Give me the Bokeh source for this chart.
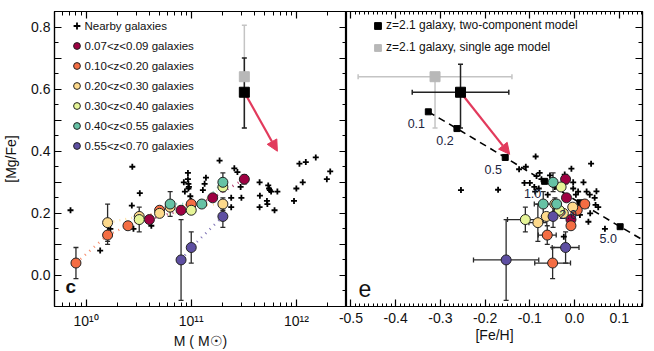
import numpy as np
from bokeh.plotting import figure
from bokeh.layouts import row
from bokeh.models import (ColumnDataSource, Whisker, TeeHead, Arrow, NormalHead, Legend, LegendItem,
                          FixedTicker, LinearAxis, LogAxis, Label, Range1d)
from bokeh.core.properties import value
from bokeh.embed import file_html
from bokeh.resources import INLINE

FONT = "Liberation Sans"
RED = "#E23A5C"

# ---------------- data ----------------
bin_labels = ["0.07<z<0.09 galaxies", "0.10<z<0.20 galaxies", "0.20<z<0.30 galaxies",
              "0.30<z<0.40 galaxies", "0.40<z<0.55 galaxies", "0.55<z<0.70 galaxies"]
bin_colors = ["#9E0142", "#F46D43", "#FDD98B", "#E6F598", "#66C2A5", "#5E4FA2"]

b1_mass = [4.0e10, 8.0e10, 1.6e11, 3.2e11]
b1_mgfe = [0.18, 0.21, 0.25, 0.31]
b1_mgfe_err = [0.01, 0.01, 0.01, 0.015]
b1_feh = [-0.008, 0.003, -0.018, -0.020]
b1_feh_err = [0.0, 0.0, 0.0, 0.0]

b2_mass = [8.0e9, 1.6e10, 2.5e10, 5.0e10, 1.0e11]
b2_mgfe = [0.04, 0.13, 0.16, 0.21, 0.23]
b2_mgfe_err = [0.05, 0.03, 0.0, 0.0, 0.0]
b2_feh = [-0.049, -0.061, -0.008, 0.006, 0.023]
b2_feh_err = [0.04, 0.02, 0.0, 0.0, 0.0]

b3_mass = [1.6e10, 3.2e10, 5.0e10, 6.3e10, 2.0e11]
b3_mgfe = [0.17, 0.19, 0.20, 0.22, 0.23]
b3_mgfe_err = [0.06, 0.0, 0.0, 0.0, 0.02]
b3_feh = [-0.082, -0.063, -0.025, -0.004, -0.044]
b3_feh_err = [0.02, 0.0, 0.0, 0.0, 0.0]

b4_mass = [3.2e10, 1.0e11, 2.0e11]
b4_mgfe = [0.18, 0.21, 0.285]
b4_mgfe_err = [0.04, 0.0, 0.0]
b4_feh = [-0.110, -0.034, -0.030]
b4_feh_err = [0.04, 0.0, 0.0]

b5_mass = [6.3e10, 1.26e11, 2.0e11]
b5_mgfe = [0.23, 0.23, 0.30]
b5_mgfe_err = [0.04, 0.0, 0.03]
b5_feh = [-0.070, -0.040, -0.048]
b5_feh_err = [0.02, 0.0, 0.0]

b6_mass = [8.0e10, 1.0e11, 2.0e11]
b6_mgfe = [0.05, 0.09, 0.19]
b6_mgfe_err = [0.13, 0.05, 0.035]
b6_feh = [-0.153, -0.020, -0.048]
b6_feh_err = [0.073, 0.03, 0.0]

nearby_mass = [7.1e9, 1.36e10, 1.7e10, 2.75e10, 3.24e10, 2.72e10, 2.82e10, 4.17e10,
               8.7e10, 9.3e10, 9.3e10, 9.4e10, 9.4e10, 8.5e10, 9.5e10, 9.8e10, 1.0e11,
               1.29e11, 1.34e11, 1.38e11, 1.86e11, 2.57e11, 2.75e11, 2.95e11, 3.0e11, 2.4e11, 2.4e11,
               4.47e11, 4.5e11, 4.47e11, 5.4e11, 5.5e11, 5.6e11, 5.75e11, 5.25e11, 5.3e11, 6.6e11, 6.2e11,
               9.5e11, 1.0e12, 1.15e12, 1.07e12, 1.23e12, 1.53e12, 2.1e12, 1.95e12]
nearby_mgfe = [0.21, 0.08, 0.15, 0.35, 0.265, 0.225, 0.15, 0.16,
               0.27, 0.33, 0.31, 0.295, 0.28, 0.30, 0.285, 0.255, 0.24,
               0.275, 0.295, 0.315, 0.37, 0.345, 0.333, 0.285, 0.25, 0.25, 0.22,
               0.30, 0.257, 0.22, 0.29, 0.28, 0.275, 0.27, 0.24, 0.23, 0.27, 0.21,
               0.24, 0.28, 0.30, 0.36, 0.365, 0.38, 0.335, 0.31]

nearby_feh = [-0.254, -0.171, -0.087, -0.109, -0.124, 0.037, -0.112, -0.100, -0.085, -0.078,
              -0.074, -0.090, -0.080, -0.055, -0.022, -0.003, -0.003, -0.044, -0.007, 0.020,
              0.008, 0.003, 0.027, 0.034, 0.049, 0.047, 0.053, 0.045, 0.031, 0.068, -0.024,
              -0.088, -0.060, 0.012, 0.035]
nearby_feh_mgfe = [0.275, 0.276, 0.383, 0.350, 0.342, 0.360, 0.298, 0.298, 0.320, 0.330,
                   0.310, 0.285, 0.280, 0.322, 0.325, 0.300, 0.280, 0.285, 0.344, 0.300,
                   0.270, 0.260, 0.270, 0.260, 0.271, 0.227, 0.220, 0.250, 0.173, 0.150, 0.125,
                   0.270, 0.260, 0.195, 0.200]

# z=2.1 galaxy
z21_mass = [3.2e11]
z21_two_mgfe = [0.59]
z21_two_mgfe_hi_left = [0.70]
z21_two_mgfe_hi_right = [0.68]
z21_two_mgfe_lo = [0.475]
z21_single_mgfe = [0.64]
z21_single_mgfe_hi_left = [0.806]
z21_single_mgfe_lo = [0.475]
z21_two_feh = [-0.255]
z21_two_feh_err = [0.108]
z21_single_feh = [-0.312]
z21_single_feh_err = [0.172]
arrow_tip_mass = 6.6e11
arrow_tip_mgfe_left = 0.40
arrow_tip_feh = -0.145
arrow_tip_mgfe_right = 0.39

# model track (age labels)
model_age = ["0.1", "0.2", "0.5", "1.0", "2.0", "5.0"]
model_feh = [-0.327, -0.263, -0.155, -0.067, 0.012, 0.102]
model_mgfe = [0.527, 0.473, 0.380, 0.303, 0.234, 0.157]
track_end_feh = [0.17]
track_end_mgfe = [0.10]

# ticks
mass_ticks = [1e10, 1e11, 1e12]
mass_tick_labels = ["10\u00b9\u2070", "10\u00b9\u00b9", "10\u00b9\u00b2"]
mass_minor = [m * f for m in [1e9, 1e10, 1e11, 1e12] for f in range(2, 10)]
y_ticks = [0.0, 0.1, 0.2, 0.3, 0.4, 0.5, 0.6, 0.7, 0.8]
y_tick_labels = ["0.0", "", "0.2", "", "0.4", "", "0.6", "", "0.8"]
y_minor = [-0.05, 0.05, 0.15, 0.25, 0.35, 0.45, 0.55, 0.65, 0.75]
feh_ticks = [-0.5, -0.4, -0.3, -0.2, -0.1, 0.0, 0.1]
feh_tick_labels = ["-0.5", "-0.4", "-0.3", "-0.2", "-0.1", "0.0", "0.1"]
feh_minor = [round(v, 2) for v in np.arange(-0.51, 0.16, 0.01)]

bins = [
    dict(mass=b1_mass, mgfe=b1_mgfe, mgfe_err=b1_mgfe_err, feh=b1_feh, feh_err=b1_feh_err),
    dict(mass=b2_mass, mgfe=b2_mgfe, mgfe_err=b2_mgfe_err, feh=b2_feh, feh_err=b2_feh_err),
    dict(mass=b3_mass, mgfe=b3_mgfe, mgfe_err=b3_mgfe_err, feh=b3_feh, feh_err=b3_feh_err),
    dict(mass=b4_mass, mgfe=b4_mgfe, mgfe_err=b4_mgfe_err, feh=b4_feh, feh_err=b4_feh_err),
    dict(mass=b5_mass, mgfe=b5_mgfe, mgfe_err=b5_mgfe_err, feh=b5_feh, feh_err=b5_feh_err),
    dict(mass=b6_mass, mgfe=b6_mgfe, mgfe_err=b6_mgfe_err, feh=b6_feh, feh_err=b6_feh_err),
]

# ---------------- helpers ----------------
def style_axis(ax, labels=True, major=7, minor=4):
    ax.major_tick_in = major
    ax.major_tick_out = 0
    ax.minor_tick_in = minor
    ax.minor_tick_out = 0
    ax.axis_line_color = "black"
    ax.axis_line_width = 1.2
    ax.major_tick_line_color = "black"
    ax.minor_tick_line_color = "black"
    ax.major_tick_line_width = 1.2
    ax.minor_tick_line_width = 1
    ax.major_label_text_font = FONT
    ax.axis_label_text_font = FONT
    ax.axis_label_text_font_style = "normal"
    ax.major_label_text_color = "#111111"
    ax.axis_label_text_color = "#111111"
    if labels:
        ax.major_label_text_font_size = "14px"
        ax.axis_label_text_font_size = "14px"
    else:
        ax.major_label_text_font_size = "1px"
        ax.major_label_text_alpha = 0
        ax.major_label_standoff = 0


def whiskers(p, base, center, err, dim, color="#2a2a2a", width=1.3, hi=None, lo=None):
    if hi is None:
        keep = [i for i, e in enumerate(err) if e > 0]
        b = [base[i] for i in keep]
        lo_v = [center[i] - err[i] for i in keep]
        hi_v = [center[i] + err[i] for i in keep]
    else:
        b, lo_v, hi_v = base, lo, hi
    if not b:
        return
    src = ColumnDataSource(dict(b=b, lo=lo_v, hi=hi_v))
    w = Whisker(source=src, base="b", lower="lo", upper="hi", dimension=dim,
                line_color=color, line_width=width, level="underlay",
                upper_head=TeeHead(size=5, line_color=color, line_width=width),
                lower_head=TeeHead(size=5, line_color=color, line_width=width))
    p.add_layout(w)


H = 351

# ---------------- left panel ----------------
p1 = figure(width=346, height=H, x_axis_type="log",
            x_range=Range1d(5e9, 3e12), y_range=Range1d(-0.1, 0.85),
            output_backend="svg", toolbar_location=None,
            min_border_left=50, min_border_right=0, min_border_top=11, min_border_bottom=44)
p1.grid.visible = False
p1.outline_line_color = "black"
p1.outline_line_width = 1.2

mass_ticker = FixedTicker(ticks=mass_ticks, minor_ticks=mass_minor)
y_ticker = FixedTicker(ticks=y_ticks, minor_ticks=y_minor)
p1.xaxis.ticker = mass_ticker
p1.xaxis.major_label_overrides = dict(zip(mass_ticks, mass_tick_labels))
p1.yaxis.ticker = y_ticker
p1.yaxis.major_label_overrides = dict(zip(y_ticks, y_tick_labels))
p1.xaxis.axis_label = "M ( M\u2609)"
p1.yaxis.axis_label = "[Mg/Fe]"
for ax in p1.xaxis + p1.yaxis:
    style_axis(ax)
p1.xaxis.major_label_standoff = 6
p1.xaxis.axis_label_standoff = 1
p1.yaxis.major_label_standoff = 4
p1.yaxis.axis_label_standoff = 9

top1 = LogAxis(ticker=FixedTicker(ticks=mass_ticks, minor_ticks=mass_minor))
style_axis(top1, labels=False)
p1.add_layout(top1, "above")
right1 = LinearAxis(ticker=FixedTicker(ticks=y_ticks, minor_ticks=y_minor))
style_axis(right1, labels=False)
p1.add_layout(right1, "right")

# dotted connecting lines
for bd, col in zip(bins, bin_colors):
    p1.line(bd["mass"], bd["mgfe"], line_color=col, line_alpha=0.8, line_width=2.4, line_dash="1 5")

# error bars
for bd in bins:
    whiskers(p1, bd["mass"], bd["mgfe"], bd["mgfe_err"], "height")

r_near1 = p1.scatter(nearby_mass, nearby_mgfe, marker="cross", size=6, line_width=1.8, color="black")

circle_r1 = []
for bd, col in zip(bins, bin_colors):
    r = p1.scatter(bd["mass"], bd["mgfe"], marker="circle", size=10, fill_color=col,
                   line_color="#222222", line_width=1)
    circle_r1.append(r)

# z=2.1 galaxy
whiskers(p1, z21_mass, None, None, "height", color="#c4c4c4", width=1.5,
         hi=z21_single_mgfe_hi_left, lo=z21_single_mgfe_lo)
whiskers(p1, z21_mass, None, None, "height", color="#222222", width=1.5,
         hi=z21_two_mgfe_hi_left, lo=z21_two_mgfe_lo)
p1.scatter(z21_mass, z21_single_mgfe, marker="square", size=10, color="#b8b8b8")
p1.scatter(z21_mass, z21_two_mgfe, marker="square", size=10, color="black")
p1.add_layout(Arrow(end=NormalHead(size=11, fill_color=RED, line_color=RED),
                    x_start=z21_mass[0], y_start=z21_two_mgfe[0],
                    x_end=arrow_tip_mass, y_end=arrow_tip_mgfe_left,
                    line_color=RED, line_width=2.2, level="underlay"))

items1 = [LegendItem(label="Nearby galaxies", renderers=[r_near1])]
for lab, r in zip(bin_labels, circle_r1):
    items1.append(LegendItem(label=lab, renderers=[r]))
leg1 = Legend(items=items1, location=(13.5, 152), orientation="vertical",
              padding=0, margin=0, spacing=3, glyph_width=17, glyph_height=17,
              label_height=17, label_standoff=0, label_text_font=FONT,
              label_text_font_size="11.5px", label_text_color="#111111",
              border_line_color=None, background_fill_alpha=0)
p1.add_layout(leg1)
p1.add_layout(Label(x=11, y=10, x_units="screen", y_units="screen", text="c",
                    text_font=FONT, text_font_size="19px", text_font_style="bold",
                    text_color="#111111"))

# ---------------- right panel ----------------
p2 = figure(width=312, height=H, x_range=Range1d(-0.51, 0.152), y_range=Range1d(-0.1, 0.85),
            output_backend="svg", toolbar_location=None,
            min_border_left=14, min_border_right=2, min_border_top=11, min_border_bottom=44,
            margin=(0, 0, 0, -14))
p2.border_fill_alpha = 0
p2.grid.visible = False
p2.outline_line_color = "black"
p2.outline_line_width = 1.2
p2.yaxis.visible = False
feh_ticker = FixedTicker(ticks=feh_ticks, minor_ticks=feh_minor)
p2.xaxis.ticker = feh_ticker
p2.xaxis.major_label_overrides = dict(zip(feh_ticks, feh_tick_labels))
p2.xaxis.axis_label = "[Fe/H]"
style_axis(p2.xaxis[0], major=7, minor=3)
p2.xaxis.major_label_standoff = 6
p2.xaxis.axis_label_standoff = 1
top2 = LinearAxis(ticker=FixedTicker(ticks=feh_ticks, minor_ticks=feh_minor))
style_axis(top2, labels=False, major=7, minor=3)
p2.add_layout(top2, "above")
right2 = LinearAxis(ticker=FixedTicker(ticks=y_ticks, minor_ticks=y_minor))
style_axis(right2, labels=False)
p2.add_layout(right2, "right")

# model track
p2.line(model_feh + track_end_feh, model_mgfe + track_end_mgfe, line_color="black",
        line_width=1.6, line_dash="7 5")
p2.scatter(model_feh, model_mgfe, marker="square", size=6, color="black")

for bd in bins:
    whiskers(p2, bd["feh"], bd["mgfe"], bd["mgfe_err"], "height")
    whiskers(p2, bd["mgfe"], bd["feh"], bd["feh_err"], "width")

p2.scatter(nearby_feh, nearby_feh_mgfe, marker="cross", size=6, line_width=1.8, color="black")
for bd, col in zip(bins, bin_colors):
    p2.scatter(bd["feh"], bd["mgfe"], marker="circle", size=10, fill_color=col,
               line_color="#222222", line_width=1)

# z=2.1 galaxy
whiskers(p2, z21_single_mgfe, z21_single_feh, z21_single_feh_err, "width", color="#c4c4c4", width=1.5)
whiskers(p2, z21_single_feh, None, None, "height", color="#c4c4c4", width=1.5,
         hi=z21_single_mgfe, lo=z21_single_mgfe_lo)
whiskers(p2, z21_two_mgfe, z21_two_feh, z21_two_feh_err, "width", color="#222222", width=1.5)
whiskers(p2, z21_two_feh, None, None, "height", color="#222222", width=1.5,
         hi=z21_two_mgfe_hi_right, lo=z21_two_mgfe_lo)
r_single = p2.scatter(z21_single_feh, z21_single_mgfe, marker="square", size=10, color="#b8b8b8")
r_two = p2.scatter(z21_two_feh, z21_two_mgfe, marker="square", size=10, color="black")
p2.add_layout(Arrow(end=NormalHead(size=11, fill_color=RED, line_color=RED),
                    x_start=z21_two_feh[0], y_start=z21_two_mgfe[0],
                    x_end=arrow_tip_feh, y_end=arrow_tip_mgfe_right,
                    line_color=RED, line_width=2.2, level="underlay"))

p2.text(model_feh, model_mgfe, text=model_age, x_offset=-12, y_offset=12,
        text_align="center", text_baseline="middle", text_font=value(FONT),
        text_font_size="12.5px", text_color="#1c2440")

leg2 = Legend(items=[LegendItem(label="z=2.1 galaxy, two-component model", renderers=[r_two]),
                     LegendItem(label="z=2.1 galaxy, single age model", renderers=[r_single])],
              location=(23, 250.5), orientation="vertical", padding=0, margin=0, spacing=5,
              glyph_width=17, glyph_height=17, label_height=17, label_standoff=0,
              label_text_font=FONT, label_text_font_size="12px", label_text_color="#111111",
              border_line_color=None, background_fill_alpha=0)
p2.add_layout(leg2)
p2.add_layout(Label(x=12, y=10, x_units="screen", y_units="screen", text="e",
                    text_font=FONT, text_font_size="23px", text_color="#111111"))

layout = row(p1, p2)
open("out.html", "w").write(file_html(layout, INLINE))
